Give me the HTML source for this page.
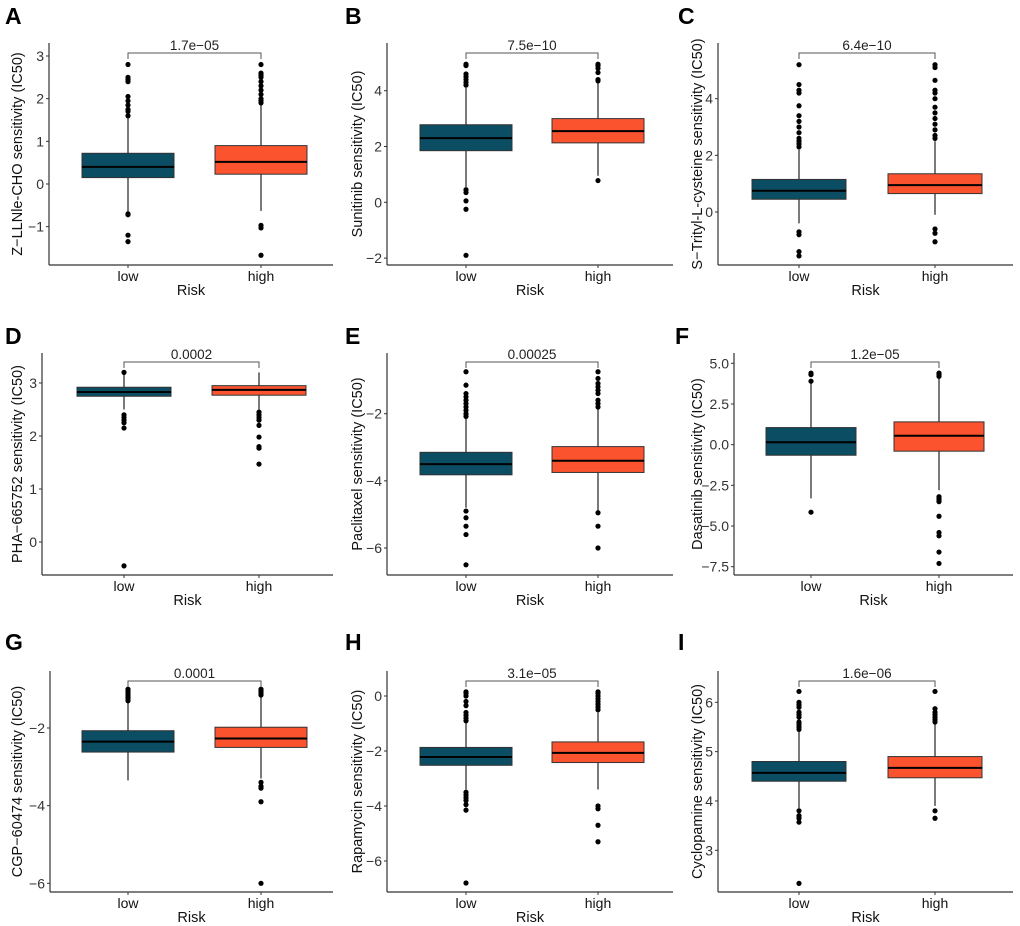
<!DOCTYPE html>
<html><head><meta charset="utf-8"><style>
html,body{margin:0;padding:0;background:#fff;}
svg{display:block;font-family:"Liberation Sans",Arial,sans-serif;}
</style></head><body>
<svg id="fig" width="1020" height="926" viewBox="0 0 1020 926" xmlns="http://www.w3.org/2000/svg"></svg>
<script>
// ---- data: [q1, median, q3, whiskerLow, whiskerHigh] ----
const groups = ["low","high"];
const A_low=[0.15,0.4,0.72,-0.65,1.57], A_high=[0.23,0.52,0.9,-0.63,1.85];
const A_lowOut=[2.8,2.5,2.45,2.4,2.05,1.95,1.85,1.75,1.7,1.6,-0.7,-0.72,-1.2,-1.35];
const A_highOut=[2.8,2.6,2.55,2.5,2.4,2.3,2.2,2.1,2.0,1.95,1.9,-0.97,-1.03,-1.67];
const B_low=[1.85,2.3,2.78,0.55,4.1], B_high=[2.13,2.55,3.0,0.95,4.3];
const B_lowOut=[4.95,4.9,4.6,4.5,4.4,4.3,4.2,0.45,0.35,0.05,-0.25,-1.9];
const B_highOut=[4.95,4.9,4.8,4.65,4.4,4.35,0.78];
const C_low=[0.45,0.75,1.15,-0.4,2.2], C_high=[0.65,0.95,1.35,-0.1,2.5];
const C_lowOut=[5.2,4.5,4.3,4.2,3.75,3.4,3.2,3.0,2.8,2.6,2.5,2.4,2.3,-0.7,-0.8,-1.4,-1.55];
const C_highOut=[5.2,5.1,4.65,4.3,4.2,4.0,3.7,3.5,3.3,3.1,2.9,2.7,2.6,-0.6,-0.75,-1.05];
const D_low=[2.75,2.83,2.92,2.5,3.2], D_high=[2.77,2.87,2.95,2.5,3.2];
const D_lowOut=[3.2,2.4,2.35,2.3,2.25,2.15,-0.45];
const D_highOut=[2.45,2.4,2.35,2.3,2.2,1.98,1.8,1.77,1.47];
const E_low=[-3.82,-3.5,-3.15,-4.8,-2.1], E_high=[-3.75,-3.4,-2.98,-4.9,-1.85];
const E_lowOut=[-0.75,-1.15,-1.4,-1.5,-1.6,-1.7,-1.8,-1.9,-2.0,-2.08,-4.9,-5.1,-5.35,-5.6,-6.5];
const E_highOut=[-0.75,-0.95,-1.1,-1.2,-1.3,-1.4,-1.6,-1.7,-1.8,-4.95,-5.35,-6.0];
const F_low=[-0.65,0.15,1.05,-3.3,3.8], F_high=[-0.4,0.55,1.4,-2.8,4.2];
const F_lowOut=[4.4,4.3,3.9,-4.15];
const F_highOut=[4.4,4.3,4.2,-3.2,-3.3,-3.4,-3.5,-4.4,-5.4,-5.6,-6.6,-7.3];
const G_low=[-2.62,-2.35,-2.07,-3.35,-1.35], G_high=[-2.5,-2.27,-1.98,-3.3,-1.2];
const G_lowOut=[-1.0,-1.05,-1.1,-1.15,-1.2,-1.25,-1.3];
const G_highOut=[-1.0,-1.05,-1.1,-1.15,-3.4,-3.5,-3.55,-3.9,-6.0];
const H_low=[-2.52,-2.22,-1.87,-3.4,-0.95], H_high=[-2.42,-2.07,-1.67,-3.4,-0.6];
const H_lowOut=[0.15,0.1,0.0,-0.2,-0.35,-0.6,-0.7,-0.8,-0.9,-3.5,-3.6,-3.7,-3.8,-3.95,-4.15,-6.8];
const H_highOut=[0.15,0.1,0.0,-0.1,-0.2,-0.3,-0.4,-0.5,-4.0,-4.1,-4.7,-5.3];
const I_low=[4.4,4.57,4.8,3.85,5.4], I_high=[4.47,4.67,4.9,3.9,5.55];
const I_lowOut=[6.22,6.0,5.95,5.9,5.8,5.75,5.7,5.6,5.55,5.5,5.45,3.8,3.7,3.65,3.57,2.33];
const I_highOut=[6.22,5.87,5.8,5.75,5.7,5.65,5.6,3.8,3.65];
const pvalues=["1.7e-05","7.5e-10","6.4e-10","0.0002","0.00025","1.2e-05","0.0001","3.1e-05","1.6e-06"];
const drugs=["Z-LLNle-CHO","Sunitinib","S-Trityl-L-cysteine","PHA-665752","Paclitaxel","Dasatinib","CGP-60474","Rapamycin","Cyclopamine"];
const A_ticks=[3,2,1,0,-1], B_ticks=[4,2,0,-2], C_ticks=[4,2,0], D_ticks=[3,2,1,0], E_ticks=[-2,-4,-6],
      F_ticks=[5,2.5,0,-2.5,-5,-7.5], G_ticks=[-2,-4,-6], H_ticks=[0,-2,-4,-6], I_ticks=[6,5,4,3];

// ---- layout (pixel geometry, not data) ----
const layout=[
 {L:"A",lx:5,ly:24,ax:49,right:333,top:43,bot:265,v0:3,p0:56,v1:0,p1:184,cl:128,ch:261,hw:46,br:53,tl:22,dec:0},
 {L:"B",lx:345,ly:24,ax:387,right:673,top:43,bot:265,v0:4,p0:90.7,v1:0,p1:202.3,cl:466,ch:598,hw:46,br:53,tl:362,dec:0},
 {L:"C",lx:678,ly:24,ax:718,right:1013,top:43,bot:265,v0:4,p0:98.7,v1:0,p1:212,cl:799,ch:935,hw:47,br:53,tl:702,dec:0},
 {L:"D",lx:5,ly:344,ax:42,right:333,top:353,bot:575,v0:3,p0:383,v1:0,p1:542,cl:124,ch:259,hw:47,br:362,tl:22,dec:0},
 {L:"E",lx:345,ly:344,ax:387,right:673,top:353,bot:575,v0:-2,p0:413.7,v1:-6,p1:548,cl:466,ch:598,hw:46,br:362,tl:362,dec:0},
 {L:"F",lx:675,ly:344,ax:734,right:1013,top:353,bot:575,v0:5,p0:363.3,v1:-7.5,p1:566.7,cl:811,ch:939,hw:45,br:362,tl:702,dec:1},
 {L:"G",lx:5,ly:650,ax:50,right:333,top:671,bot:892,v0:-2,p0:728,v1:-6,p1:883.3,cl:128,ch:261,hw:46,br:681,tl:22,dec:0},
 {L:"H",lx:345,ly:650,ax:387,right:673,top:671,bot:892,v0:0,p0:696,v1:-6,p1:861,cl:466,ch:598,hw:46,br:681,tl:362,dec:0},
 {L:"I",lx:678,ly:650,ax:718,right:1013,top:671,bot:892,v0:6,p0:702.3,v1:3,p1:850.3,cl:799,ch:935,hw:47,br:681,tl:702,dec:0}
];
const series=[[A_low,A_high,A_lowOut,A_highOut,A_ticks],[B_low,B_high,B_lowOut,B_highOut,B_ticks],[C_low,C_high,C_lowOut,C_highOut,C_ticks],
 [D_low,D_high,D_lowOut,D_highOut,D_ticks],[E_low,E_high,E_lowOut,E_highOut,E_ticks],[F_low,F_high,F_lowOut,F_highOut,F_ticks],
 [G_low,G_high,G_lowOut,G_highOut,G_ticks],[H_low,H_high,H_lowOut,H_highOut,H_ticks],[I_low,I_high,I_lowOut,I_highOut,I_ticks]];
const fills=["#0b4d62","#fc532f"];
const NS="http://www.w3.org/2000/svg";
const svg=document.getElementById("fig");
function mk(tag,attrs,parent,text){const e=document.createElementNS(NS,tag);for(const k in attrs)e.setAttribute(k,attrs[k]);if(text!==undefined)e.textContent=text;parent.appendChild(e);return e;}
const minus=s=>String(s).replace("-","\u2212");

layout.forEach((g,i)=>{
  const [lo,hi,loOut,hiOut,ticks]=series[i];
  const y=v=>g.p0+(v-g.v0)*(g.p1-g.p0)/(g.v1-g.v0);
  const pn=mk("g",{},svg);
  
  
  const lab=mk("text",{x:g.lx,y:g.ly,"font-size":23,"font-weight":"bold",fill:"#000"},pn,g.L);
  
  
  const ya=mk("line",{x1:g.ax,y1:g.top,x2:g.ax,y2:g.bot,stroke:"#333","stroke-width":1.2},pn);
  
  
  const xa=mk("line",{x1:g.ax,y1:g.bot,x2:g.right,y2:g.bot,stroke:"#333","stroke-width":1.2},pn);
  
  
  ticks.forEach(t=>{
    const ty=y(t);
    mk("line",{x1:g.ax-3,y1:ty,x2:g.ax,y2:ty,stroke:"#333"},pn);
    const tl=mk("text",{x:g.ax-5,y:ty+5,"font-size":14,"text-anchor":"end",fill:"#333"},pn,minus(g.dec?t.toFixed(1):t));
    
    
  });
  [g.cl,g.ch].forEach((cx,k)=>{
    mk("line",{x1:cx,y1:g.bot,x2:cx,y2:g.bot+3,stroke:"#333"},pn);
    const xl=mk("text",{x:cx,y:g.bot+16,"font-size":14,"text-anchor":"middle",fill:"#111"},pn,groups[k]);
    
    
  });
  const xt=mk("text",{x:(g.ax+g.right)/2,y:g.bot+30,"font-size":14.5,"text-anchor":"middle",fill:"#111"},pn,"Risk");
  
  
  const cy=(g.top+g.bot)/2;
  const yt=mk("text",{x:g.tl,y:cy,"font-size":14.5,"text-anchor":"middle",fill:"#111",transform:`rotate(-90 ${g.tl} ${cy})`},pn,minus(drugs[i])+" sensitivity (IC50)");
  
  
  [[lo,loOut,g.cl],[hi,hiOut,g.ch]].forEach(([s,outs,cx],k)=>{
    const [q1,med,q3,wl,wh]=s;
    const wk=mk("line",{x1:cx,y1:y(wh),x2:cx,y2:y(wl),stroke:"#333","stroke-width":1.3},pn);
    
    
    const bx=mk("rect",{x:cx-g.hw,y:y(q3),width:2*g.hw,height:y(q1)-y(q3),fill:fills[k],stroke:"#333","stroke-width":1},pn);
    
    
    const md=mk("line",{x1:cx-g.hw,y1:y(med),x2:cx+g.hw,y2:y(med),stroke:"#000","stroke-width":2},pn);
    
    
    outs.forEach(v=>{
      const c=mk("circle",{cx:cx,cy:y(v),r:2.6,fill:"#000"},pn);
      
      
    });
  });
  const br=mk("path",{d:`M${g.cl},${g.br+6}V${g.br}H${g.ch}V${g.br+6}`,fill:"none",stroke:"#555","stroke-width":1},pn);
  
  
  const pv=mk("text",{x:(g.cl+g.ch)/2,y:g.br-3,"font-size":13.5,"text-anchor":"middle",fill:"#222"},pn,minus(pvalues[i]));
  
  
});
</script>
</body></html>
